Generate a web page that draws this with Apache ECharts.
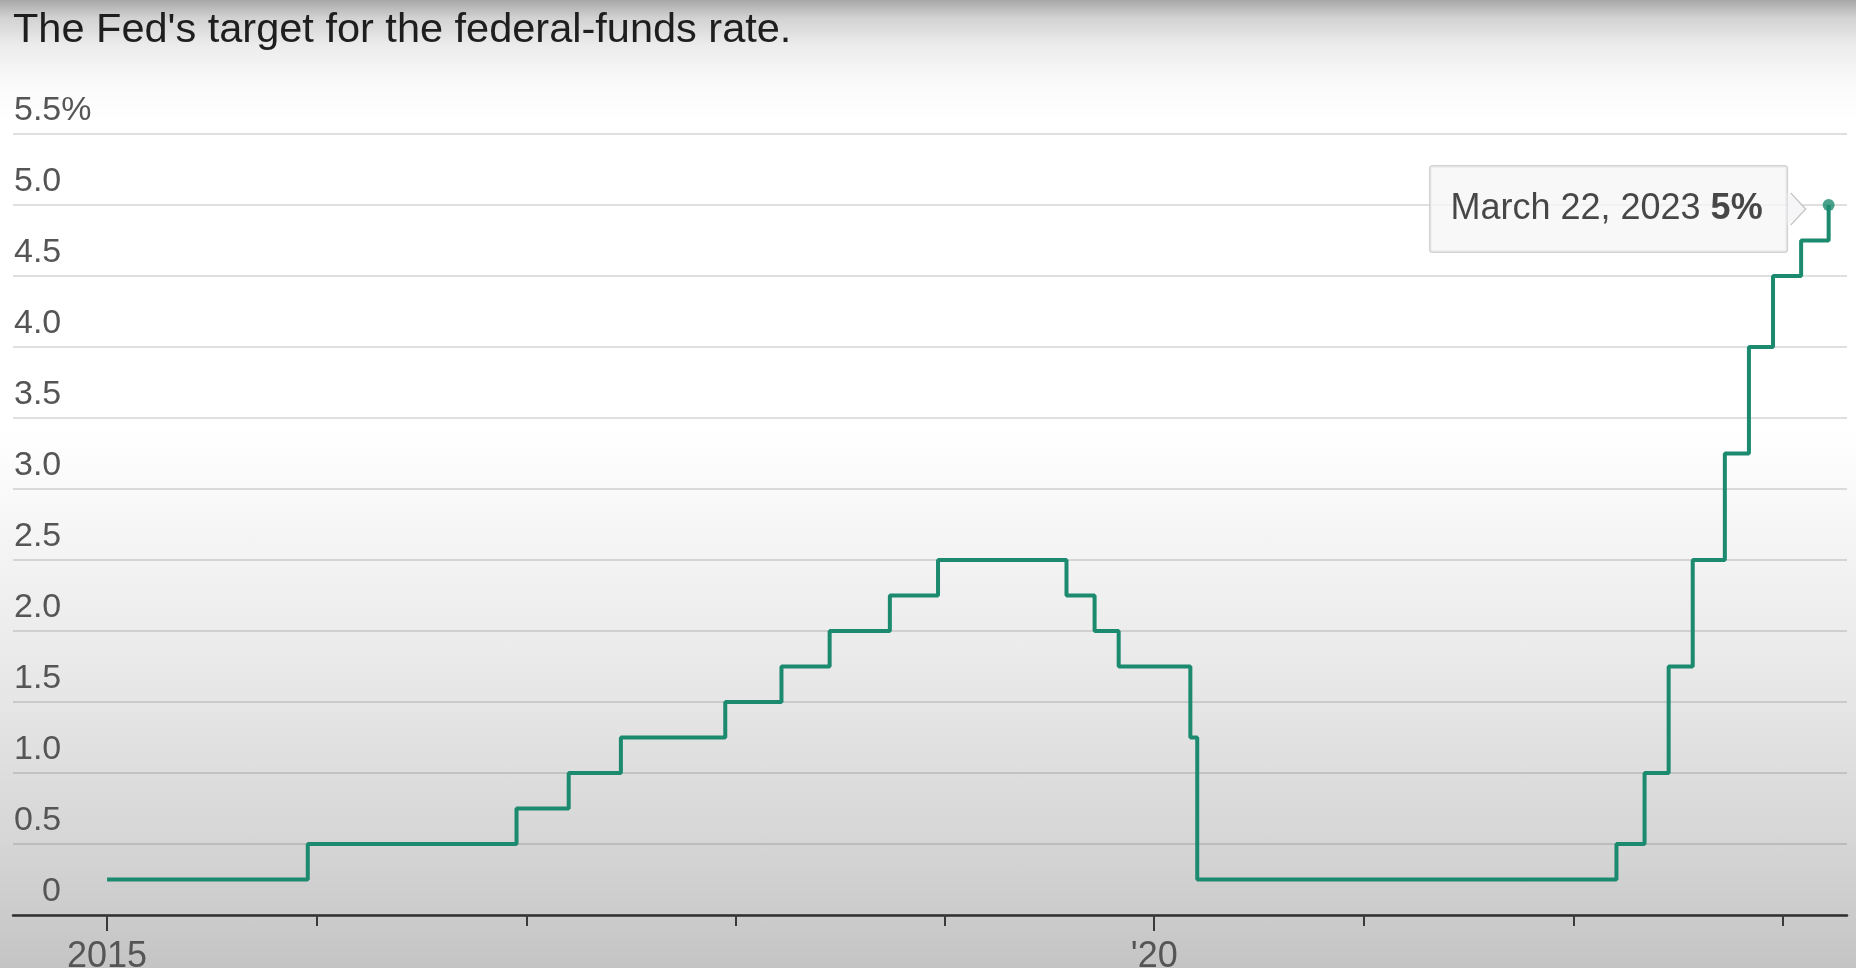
<!DOCTYPE html>
<html>
<head>
<meta charset="utf-8">
<script src="https://cdn.jsdelivr.net/npm/echarts@6/dist/echarts.min.js"></script>
<style>
  html, body { margin: 0; padding: 0; }
  body {
    width: 1856px; height: 968px; overflow: hidden;
    background: linear-gradient(to bottom, #a8a8a8 0px, #d2d2d2 18px, #ececec 45px, #fafafa 85px, #ffffff 120px, #ffffff 430px, #f3f3f3 560px, #e6e6e6 700px, #d6d6d6 840px, #c4c4c4 968px);
  }
  #chart { width: 1856px; height: 968px; }
</style>
</head>
<body>
<div id="chart"></div>
<script>
// ---- data ----
const titleText = "The Fed's target for the federal-funds rate.";
const dates = [
  '2015-01-01', '2015-12-17', '2016-12-15', '2017-03-16', '2017-06-15',
  '2017-12-14', '2018-03-22', '2018-06-14', '2018-09-27', '2018-12-20',
  '2019-08-01', '2019-09-19', '2019-10-31', '2020-03-04', '2020-03-16',
  '2022-03-17', '2022-05-05', '2022-06-16', '2022-07-28', '2022-09-22',
  '2022-11-03', '2022-12-15', '2023-02-02', '2023-03-22'
];
const rates = [
  0.25, 0.5, 0.75, 1.0, 1.25,
  1.5, 1.75, 2.0, 2.25, 2.5,
  2.25, 2.0, 1.75, 1.25, 0.25,
  0.5, 1.0, 1.75, 2.5, 3.25,
  4.0, 4.5, 4.75, 5.0
];
const tickYears = [2015, 2016, 2017, 2018, 2019, 2020, 2021, 2022, 2023];
const labelYears = [2015, 2020];
const calloutDate = 'March 22, 2023';
const calloutValue = '5%';
const xMin = '2014-07-21';
const xMax = '2023-04-23';

// ---- chart ----
const P = s => +echarts.number.parseDate(s);
const seriesData = dates.map((d, i) => [P(d), rates[i]]);
const last = seriesData[seriesData.length - 1];
const tickVals = tickYears.map(y => P(y + '-01-01'));
const labelVals = labelYears.map(y => P(y + '-01-01'));

const FONT = '"Liberation Sans", Arial, Helvetica, sans-serif';
const LINE = '#1b8a6f';
const CALLOUT_DY = 4;

const chart = echarts.init(document.getElementById('chart'), null, { renderer: 'canvas' });
chart.setOption({
  backgroundColor: 'transparent',
  animation: false,
  title: {
    text: titleText,
    left: 13, top: 7, padding: 0,
    textStyle: { fontFamily: FONT, fontSize: 41.5, fontWeight: 'normal', color: '#1e1e1e', lineHeight: 48 }
  },
  grid: { left: 13, right: 9, top: 134, bottom: 53, containLabel: false, outerBoundsMode: 'none' },
  xAxis: [
    {
      type: 'value', min: P(xMin), max: P(xMax), position: 'bottom',
      axisLine: { show: true, lineStyle: { color: '#2e2e2e', width: 2.5 } },
      axisTick: { show: true, customValues: tickVals, length: 11, lineStyle: { color: '#3a3a3a', width: 2 } },
      axisLabel: { show: false },
      splitLine: { show: false }
    },
    {
      type: 'value', min: P(xMin), max: P(xMax), position: 'bottom',
      axisLine: { show: false },
      axisTick: { show: true, customValues: labelVals, length: 16, lineStyle: { color: '#3a3a3a', width: 2 } },
      axisLabel: {
        show: true, customValues: labelVals, margin: 24,
        fontFamily: FONT, fontSize: 36, color: '#555555',
        formatter: v => {
          const y = new Date(v).getFullYear();
          return y === 2015 ? String(y) : "'" + String(y).slice(2);
        }
      },
      splitLine: { show: false }
    }
  ],
  yAxis: {
    type: 'value', min: 0, max: 5.5, interval: 0.5,
    axisLine: { show: false }, axisTick: { show: false },
    splitLine: { show: true, lineStyle: { color: 'rgba(0,0,0,0.12)', width: 2 } },
    axisLabel: {
      inside: true, margin: 1, verticalAlign: 'bottom', align: 'left',
      fontFamily: FONT, fontSize: 34, color: '#555555', lineHeight: 34,
      padding: [0, 0, 6, 0],
      formatter: v => v === 0 ? '{z|0}' : (v === 5.5 ? v.toFixed(1) + '%' : v.toFixed(1)),
      rich: { z: { fontFamily: FONT, fontSize: 34, color: '#555555', padding: [0, 0, 0, 28] } }
    }
  },
  series: [
    {
      type: 'line', step: 'end', data: seriesData,
      xAxisIndex: 0, yAxisIndex: 0,
      showSymbol: false, symbol: 'none',
      lineStyle: { color: LINE, width: 4 },
      z: 3
    },
    {
      type: 'scatter', data: [last], xAxisIndex: 0, yAxisIndex: 0,
      symbol: 'circle', symbolSize: 12,
      itemStyle: { color: LINE },
      z: 4,
      label: {
        show: true, position: 'left', distance: 36, offset: [0, CALLOUT_DY],
        formatter: '{a|' + calloutDate + ' }{b|' + calloutValue + '}',
        backgroundColor: '#f6f6f8', borderColor: '#c8c8c8', borderWidth: 1.5, borderRadius: 2,
        padding: [24, 24, 23, 20],
        rich: {
          a: { fontFamily: FONT, fontSize: 36, color: '#1a1a1a', lineHeight: 38 },
          b: { fontFamily: FONT, fontSize: 36, color: '#1a1a1a', fontWeight: 'bold', lineHeight: 38 }
        }
      }
    }
  ]
});

// arrow of the callout, positioned from the last data point
const px = chart.convertToPixel({ xAxisIndex: 0, yAxisIndex: 0 }, last);
const bx = px[0] - 36 - 2;
const cy = px[1] + CALLOUT_DY;
chart.setOption({
  graphic: [
    { type: 'polygon', z: 100, shape: { points: [[bx - 3, cy - 16], [bx + 15, cy], [bx - 3, cy + 16]] }, style: { fill: '#f6f6f8' } },
    { type: 'polyline', z: 101, shape: { points: [[bx, cy - 16], [bx + 15, cy], [bx, cy + 16]] }, style: { stroke: '#c8c8c8', lineWidth: 1.5, fill: null } }
  ]
});
</script>
</body>
</html>
